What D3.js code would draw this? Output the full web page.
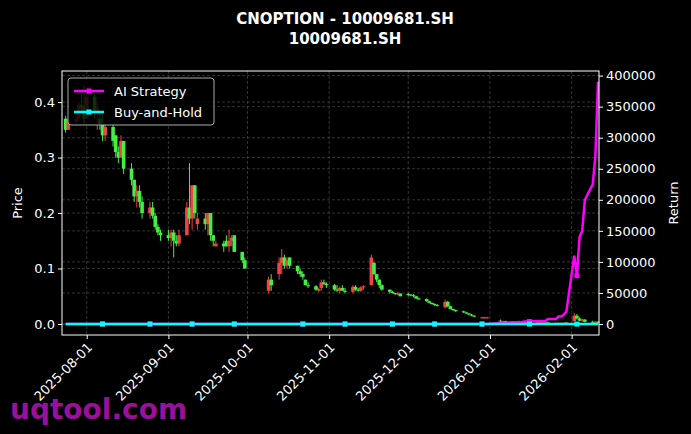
<!DOCTYPE html>
<html><head><meta charset="utf-8">
<script src="https://cdn.jsdelivr.net/npm/d3@7"></script>
<style>body{margin:0;background:#000}svg{display:block;font-family:"DejaVu Sans",sans-serif}</style>
</head><body><svg id="c" width="691" height="434"></svg>
<script>
const titleLines = ["CNOPTION - 10009681.SH", "10009681.SH"];
const priceTicks = [0.0, 0.1, 0.2, 0.3, 0.4];
const returnTicks = [0,50000,100000,150000,200000,250000,300000,350000,400000];
const dateTicks = ["2025-08-01","2025-09-01","2025-10-01","2025-11-01","2025-12-01","2026-01-01","2026-02-01"];
// [date, open, high, low, close]
const candles = [
["2025-07-24",.37,.375,.345,.35],["2025-07-25",.35,.37,.35,.365],["2025-07-28",.365,.38,.36,.37],
["2025-07-29",.37,.40,.365,.395],["2025-07-30",.395,.42,.38,.39],["2025-07-31",.39,.43,.36,.37],
["2025-08-01",.37,.42,.37,.41],["2025-08-04",.41,.42,.37,.38],["2025-08-05",.38,.40,.35,.39],
["2025-08-06",.37,.38,.35,.36],["2025-08-07",.36,.38,.33,.34],["2025-08-08",.34,.36,.33,.355],
["2025-08-11",.355,.36,.32,.33],["2025-08-12",.34,.34,.30,.31],["2025-08-13",.31,.32,.29,.30],
["2025-08-14",.30,.34,.30,.33],["2025-08-15",.33,.33,.27,.28],["2025-08-18",.28,.29,.25,.26],
["2025-08-19",.26,.26,.22,.23],["2025-08-20",.23,.25,.21,.24],["2025-08-21",.24,.25,.21,.22],
["2025-08-22",.22,.23,.19,.20],["2025-08-25",.20,.22,.19,.21],["2025-08-26",.21,.22,.19,.195],
["2025-08-27",.195,.20,.17,.175],["2025-08-28",.175,.18,.16,.165],["2025-08-29",.165,.17,.15,.16],
["2025-09-01",.16,.17,.15,.155],["2025-09-02",.155,.17,.14,.165],["2025-09-03",.165,.17,.12,.15],
["2025-09-04",.15,.16,.14,.145],["2025-09-05",.145,.17,.14,.16],["2025-09-08",.16,.22,.16,.21],
["2025-09-09",.21,.29,.18,.19],["2025-09-10",.19,.25,.17,.25],["2025-09-11",.25,.25,.19,.20],
["2025-09-12",.18,.20,.17,.19],["2025-09-15",.19,.20,.17,.18],["2025-09-16",.18,.20,.16,.20],
["2025-09-17",.20,.20,.15,.16],["2025-09-18",.16,.16,.14,.15],["2025-09-19",.14,.15,.14,.145],
["2025-09-22",.145,.15,.13,.14],["2025-09-23",.15,.16,.14,.14],["2025-09-24",.14,.17,.13,.15],
["2025-09-25",.15,.16,.14,.155],["2025-09-26",.16,.16,.13,.13],["2025-09-29",.13,.13,.11,.115],
["2025-09-30",.115,.12,.10,.10],
["2025-10-09",.06,.085,.055,.08],["2025-10-10",.08,.09,.06,.07],["2025-10-13",.09,.12,.08,.11],
["2025-10-14",.11,.135,.09,.12],["2025-10-15",.12,.125,.10,.105],["2025-10-16",.105,.12,.10,.115],
["2025-10-17",.12,.12,.10,.105],["2025-10-20",.105,.105,.09,.095],["2025-10-21",.095,.10,.085,.09],
["2025-10-22",.09,.095,.08,.085],["2025-10-23",.08,.08,.07,.07],["2025-10-24",.07,.075,.065,.068],
["2025-10-27",.068,.07,.06,.062],["2025-10-28",.06,.065,.058,.063],["2025-10-29",.065,.08,.06,.075],
["2025-10-30",.075,.08,.07,.072],["2025-10-31",.072,.075,.065,.07],["2025-11-03",.07,.072,.06,.062],
["2025-11-04",.062,.07,.058,.06],["2025-11-05",.06,.068,.055,.065],["2025-11-06",.065,.07,.06,.06],
["2025-11-07",.06,.065,.055,.058],["2025-11-10",.058,.07,.055,.067],["2025-11-11",.067,.07,.06,.062],
["2025-11-12",.062,.065,.058,.06],["2025-11-13",.06,.068,.058,.066],["2025-11-14",.066,.07,.062,.068],
["2025-11-17",.07,.125,.07,.12],["2025-11-18",.11,.112,.088,.09],["2025-11-19",.09,.09,.075,.08],
["2025-11-20",.08,.08,.065,.07],["2025-11-21",.07,.072,.06,.062],["2025-11-24",.062,.062,.055,.058],
["2025-11-25",.058,.06,.055,.056],["2025-11-26",.056,.056,.052,.054],["2025-11-27",.054,.058,.052,.055],
["2025-11-28",.055,.055,.05,.05],["2025-12-01",.054,.056,.05,.053],["2025-12-02",.053,.054,.05,.052],
["2025-12-03",.052,.054,.048,.05],["2025-12-04",.05,.05,.045,.046],["2025-12-05",.046,.048,.044,.045],
["2025-12-08",.045,.046,.04,.041],["2025-12-09",.041,.042,.037,.038],["2025-12-10",.038,.039,.035,.036],
["2025-12-11",.036,.037,.033,.034],["2025-12-12",.034,.036,.032,.033],["2025-12-15",.03,.044,.028,.04],
["2025-12-16",.04,.042,.03,.032],["2025-12-17",.032,.033,.026,.027],["2025-12-18",.027,.028,.024,.025],
["2025-12-19",.025,.026,.022,.023],["2025-12-22",.023,.024,.02,.021],["2025-12-23",.021,.022,.018,.019],
["2025-12-24",.019,.02,.016,.017],["2025-12-25",.017,.018,.014,.015],["2025-12-26",.015,.016,.013,.014],
["2025-12-29",.011,.013,.01,.012],["2025-12-30",.011,.013,.01,.012],["2025-12-31",.011,.013,.01,.012],
["2026-01-05",.006,.008,.004,.005],["2026-01-06",.005,.006,.004,.005],["2026-01-07",.005,.006,.004,.004],
["2026-01-08",.004,.005,.003,.004],["2026-01-09",.004,.005,.003,.004],["2026-01-12",.004,.006,.003,.005],
["2026-01-13",.005,.005,.003,.004],["2026-01-14",.004,.005,.003,.004],["2026-01-15",.004,.004,.003,.003],
["2026-01-16",.003,.004,.002,.003],["2026-01-19",.003,.004,.002,.003],["2026-01-20",.003,.004,.002,.003],
["2026-01-21",.003,.003,.002,.003],["2026-01-22",.003,.004,.002,.003],["2026-01-23",.003,.003,.002,.002],
["2026-01-26",.002,.003,.002,.002],["2026-01-27",.002,.003,.002,.002],["2026-01-28",.002,.003,.001,.002],
["2026-01-29",.002,.003,.001,.002],["2026-01-30",.002,.004,.001,.003],["2026-02-02",.005,.02,.004,.015],
["2026-02-03",.015,.018,.008,.01],["2026-02-04",.01,.012,.005,.006],["2026-02-05",.006,.01,.004,.008],
["2026-02-06",.008,.009,.003,.004],["2026-02-09",.004,.006,.002,.003],["2026-02-10",.003,.005,.002,.004],
["2026-02-11",.004,.005,.002,.003]
];
const strategyDates = ["2025-12-31","2026-01-05","2026-01-09","2026-01-14","2026-01-19","2026-01-23","2026-01-27","2026-01-29","2026-01-30","2026-02-02","2026-02-03","2026-02-04","2026-02-05","2026-02-06","2026-02-09","2026-02-10","2026-02-11"];
const strategyValues = [0,1500,3000,4000,5000,8000,12000,15000,20000,110000,78000,140000,150000,200000,225000,270000,390000];

const parse = d3.timeParse("%Y-%m-%d");
const svg = d3.select("#c");
const L=62,R=599,T=71,B=335;
const x = d3.scaleTime().domain([parse("2025-07-23"),parse("2026-02-11")]).range([L+1,R-1]);
const yP = d3.scaleLinear().domain([-0.0198,0.456]).range([B,T]);
const yR = d3.scaleLinear().domain([-17700,407400]).range([B,T]);

const retMap = new Map(strategyDates.map((d,i)=>[d,strategyValues[i]]));
let last = 0;
const series = candles.map(c=>{ if(retMap.has(c[0])) last = retMap.get(c[0]); return {d:parse(c[0]), s:last, b:(c[4]/candles[0][4]-1)*100}; });

const g = svg.append("g");
dateTicks.forEach(t=>g.append("line").attr("x1",x(parse(t))).attr("x2",x(parse(t))).attr("y1",T).attr("y2",B));
priceTicks.forEach(t=>g.append("line").attr("x1",L).attr("x2",R).attr("y1",yP(t)).attr("y2",yP(t)));
returnTicks.forEach(t=>g.append("line").attr("x1",L).attr("x2",R).attr("y1",yR(t)).attr("y2",yR(t)));
g.selectAll("line").attr("stroke","#555").attr("stroke-width",0.6).attr("stroke-dasharray","3,2");

const cg = svg.append("g");
candles.forEach(c=>{
  const cx = x(parse(c[0])), up = c[4]>=c[1], col = up?"#ee4444":"#44ee44";
  cg.append("line").attr("x1",cx).attr("x2",cx).attr("y1",yP(c[2])).attr("y2",yP(c[3])).attr("stroke",col).attr("stroke-width",1);
  const y0=yP(Math.max(c[1],c[4])), y1=yP(Math.min(c[1],c[4]));
  cg.append("rect").attr("x",cx-1.8).attr("width",3.6).attr("y",y0).attr("height",Math.max(1,y1-y0)).attr("fill",col);
});

const lineS = d3.line().x(d=>x(d.d)).y(d=>yR(d.s));
const lineB = d3.line().x(d=>x(d.d)).y(d=>yR(d.b));
svg.append("path").datum(series).attr("d",lineS).attr("fill","none").attr("stroke","#ff00ff").attr("stroke-width",2.5);
svg.append("path").datum(series).attr("d",lineB).attr("fill","none").attr("stroke","#00ffff").attr("stroke-width",2.5);
const mk = series.filter((d,i)=>i%12===10);
svg.selectAll(".ms").data(mk).enter().append("rect").attr("x",d=>x(d.d)-2.5).attr("y",d=>yR(d.s)-2.5).attr("width",5).attr("height",5).attr("fill","#ff00ff");
svg.selectAll(".mb").data(mk).enter().append("rect").attr("x",d=>x(d.d)-2.5).attr("y",d=>yR(d.b)-2.5).attr("width",5).attr("height",5).attr("fill","#00ffff");

svg.append("rect").attr("x",L).attr("y",T).attr("width",R-L).attr("height",B-T).attr("fill","none").attr("stroke","#fff").attr("stroke-width",1);

const axL = svg.append("g").attr("transform",`translate(${L},0)`).call(d3.axisLeft(yP).tickValues(priceTicks).tickFormat(d3.format(".1f")).tickSize(4));
const axR = svg.append("g").attr("transform",`translate(${R},0)`).call(d3.axisRight(yR).tickValues(returnTicks).tickFormat(d3.format("d")).tickSize(4));
const axB = svg.append("g").attr("transform",`translate(0,${B})`).call(d3.axisBottom(x).tickValues(dateTicks.map(parse)).tickFormat(d3.timeFormat("%Y-%m-%d")).tickSize(4));
[axL,axR,axB].forEach(a=>{a.select(".domain").remove();a.selectAll("line").attr("stroke","#fff");a.selectAll("text").attr("fill","#fff").style("font-size","13px").style("font-family","DejaVu Sans");});
axB.selectAll("text").attr("text-anchor","end").attr("transform","rotate(-45)").attr("dx","-0.4em").attr("dy","0.5em");

svg.append("text").attr("x",22).attr("y",(T+B)/2).attr("transform",`rotate(-90,22,${(T+B)/2})`).attr("text-anchor","middle").attr("fill","#fff").style("font-size","13px").text("Price");
svg.append("text").attr("x",678).attr("y",(T+B)/2).attr("transform",`rotate(-90,678,${(T+B)/2})`).attr("text-anchor","middle").attr("fill","#fff").style("font-size","13px").text("Return");

titleLines.forEach((t,i)=>svg.append("text").attr("x",345).attr("y",24+i*20).attr("text-anchor","middle").attr("fill","#fff").style("font-size","15px").style("font-weight","bold").text(t));

const lg = svg.append("g");
lg.append("rect").attr("x",68).attr("y",78).attr("width",146).attr("height",47).attr("rx",3).attr("fill","#000").attr("fill-opacity",0.8).attr("stroke","#aaa");
[["AI Strategy","#ff00ff"],["Buy-and-Hold","#00ffff"]].forEach((l,i)=>{
  const yy=91+i*21;
  lg.append("line").attr("x1",74).attr("x2",104).attr("y1",yy).attr("y2",yy).attr("stroke",l[1]).attr("stroke-width",2.5);
  lg.append("rect").attr("x",86.5).attr("y",yy-2.5).attr("width",5).attr("height",5).attr("fill",l[1]);
  lg.append("text").attr("x",114).attr("y",yy+4.5).attr("fill","#fff").style("font-size","13px").text(l[0]);
});

svg.append("text").attr("x",10).attr("y",419).attr("fill","#9a109a").style("font-size","28px").style("font-weight","bold").text("uqtool.com");
</script></body></html>
